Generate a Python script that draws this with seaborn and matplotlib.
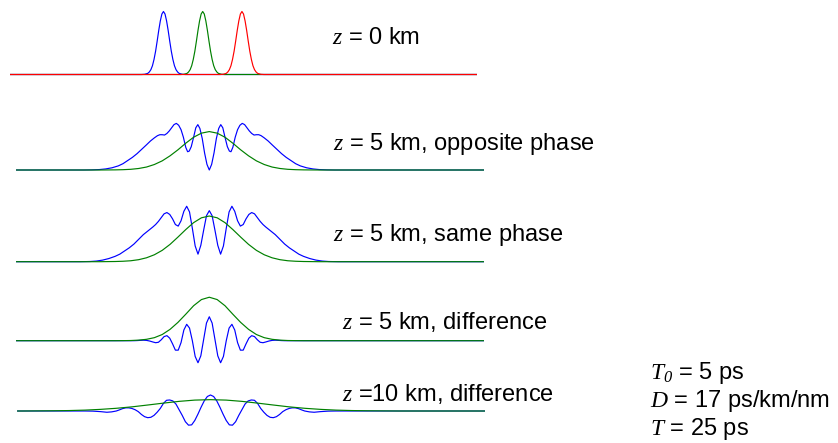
import matplotlib
matplotlib.use("Agg")
import matplotlib.pyplot as plt
import seaborn as sns

sns.set_style("white")
plt.rcParams["font.family"] = ["Liberation Sans", "DejaVu Sans"]
plt.rcParams["text.color"] = "black"
plt.rcParams["mathtext.fontset"] = "custom"
plt.rcParams["mathtext.it"] = "Liberation Serif:italic"
# digits inside math (the subscript of T0) are set in italic serif as well
plt.rcParams["mathtext.rm"] = "Liberation Serif:italic"

BLUE, GREEN, RED = "#0000ff", "#008000", "#ff0000"

# time window shown in every row (ps)
T_MIN, T_MAX = -123.0, 175.0

# ---- z = 0 km: three input pulses, one bit slot (25 ps) apart ----
z0_centers = [-25.0, 0.0, 25.0]
z0_colors = [BLUE, GREEN, RED]
z0_profile_t = [-14, -12, -10, -9, -8, -7, -6, -5, -4, -3, -2, -1, 0,
                1, 2, 3, 4, 5, 6, 7, 8, 9, 10, 12, 14]
z0_profile_p = [0.0, 0.003, 0.018, 0.04, 0.077, 0.14, 0.24, 0.37, 0.53, 0.70, 0.85, 0.96, 1.0,
                0.96, 0.85, 0.70, 0.53, 0.37, 0.24, 0.14, 0.077, 0.04, 0.018, 0.003, 0.0]

# ---- z = 5 km, opposite phase ----
opp_t = [-123, -80, -75, -70, -66, -62, -58, -55, -52, -49, -46, -43, -40, -37.5, -35, -33,
         -31.5, -30, -28.5, -27, -25.5, -24, -22.5, -21, -19.5, -18, -16.5, -15, -13.8,
         -12.8, -11.5, -10, -8.6, -7.3, -6, -4.5, -3, -1.5, 0, 1.5, 3, 4.5, 6, 7.3, 8.6,
         10, 11.5, 12.8, 13.8, 15, 16.5, 18, 19.5, 21, 22.5, 24, 25.5, 27, 28.5, 30, 31.5,
         33, 35, 37.5, 40, 43, 46, 49, 52, 55, 58, 62, 66, 70, 75, 80, 175]
opp_sum = [0, 0.0, 0.002, 0.007, 0.017, 0.035, 0.065, 0.10, 0.15, 0.20, 0.26, 0.33, 0.40,
           0.46, 0.51, 0.545, 0.56, 0.56, 0.555, 0.58, 0.62, 0.67, 0.72, 0.74, 0.71, 0.64,
           0.52, 0.36, 0.29, 0.30, 0.37, 0.52, 0.67, 0.72, 0.66, 0.50, 0.27, 0.09, 0.0,
           0.09, 0.27, 0.50, 0.66, 0.72, 0.67, 0.52, 0.37, 0.30, 0.29, 0.36, 0.52, 0.64,
           0.71, 0.74, 0.72, 0.67, 0.62, 0.58, 0.555, 0.56, 0.56, 0.545, 0.51, 0.46, 0.40,
           0.33, 0.26, 0.20, 0.15, 0.10, 0.065, 0.035, 0.017, 0.007, 0.002, 0.0, 0]

# single (centre) pulse after 5 km, sampled every 5 ps
single_t = [-123, -70, -60, -55, -50, -45, -40, -35, -30, -25, -20, -15, -10, -5, 0,
            5, 10, 15, 20, 25, 30, 35, 40, 45, 50, 55, 60, 70, 175]
opp_single = [0, 0.0, 0.002, 0.005, 0.011, 0.024, 0.047, 0.087, 0.145, 0.225, 0.32, 0.425,
              0.52, 0.585, 0.61, 0.585, 0.52, 0.425, 0.32, 0.225, 0.145, 0.087, 0.047,
              0.024, 0.011, 0.005, 0.002, 0.0, 0]

# ---- z = 5 km, same phase / difference (common 1.8 ps grid near the centre) ----
mid_t = [-123, -82, -76, -72, -68, -64, -60, -57, -54, -51, -48, -46, -44, -42, -40, -38,
         -36, -34.2, -32.4, -30.6, -28.8, -27, -25.2, -23.4, -21.6, -19.8, -18, -16.2,
         -14.4, -12.6, -10.8, -9, -7.2, -5.4, -3.6, -1.8, 0, 1.8, 3.6, 5.4, 7.2, 9, 10.8,
         12.6, 14.4, 16.2, 18, 19.8, 21.6, 23.4, 25.2, 27, 28.8, 30.6, 32.4, 34.2, 36, 38,
         40, 42, 44, 46, 48, 51, 54, 57, 60, 64, 68, 72, 76, 82, 175]
same_sum = [0, 0.0, 0.003, 0.01, 0.025, 0.05, 0.085, 0.12, 0.17, 0.22, 0.28, 0.33, 0.38,
            0.43, 0.47, 0.51, 0.55, 0.59, 0.64, 0.70, 0.76, 0.78, 0.75, 0.68, 0.59, 0.565,
            0.65, 0.80, 0.88, 0.79, 0.53, 0.25, 0.12, 0.26, 0.50, 0.73, 0.81, 0.73, 0.50,
            0.26, 0.12, 0.25, 0.53, 0.79, 0.88, 0.80, 0.65, 0.565, 0.59, 0.68, 0.75, 0.78,
            0.76, 0.70, 0.64, 0.59, 0.55, 0.51, 0.47, 0.43, 0.38, 0.33, 0.28, 0.22, 0.17,
            0.12, 0.085, 0.05, 0.025, 0.01, 0.003, 0.0, 0]
diff5_field = [0, 0, 0, 0, 0, 0, 0, 0, 0, 0, 0, 0.002, 0.005, 0.008, 0.005, -0.005, -0.02,
               -0.032, -0.025, 0.015, 0.065, 0.08, 0.04, -0.05, -0.15, -0.15, -0.03, 0.17,
               0.26, 0.20, 0.0, -0.25, -0.35, -0.24, 0.02, 0.28, 0.38, 0.28, 0.02, -0.24,
               -0.35, -0.25, 0.0, 0.20, 0.26, 0.17, -0.03, -0.15, -0.15, -0.05, 0.04, 0.08,
               0.065, 0.015, -0.025, -0.032, -0.02, -0.005, 0.005, 0.008, 0.005, 0.002, 0,
               0, 0, 0, 0, 0, 0, 0, 0, 0, 0]

same_single = [0, 0.0, 0.003, 0.007, 0.015, 0.032, 0.062, 0.11, 0.18, 0.275, 0.39, 0.51,
               0.62, 0.697, 0.725, 0.697, 0.62, 0.51, 0.39, 0.275, 0.18, 0.11, 0.062,
               0.032, 0.015, 0.007, 0.003, 0.0, 0]
diff5_env = [0, 0.0, 0.0, 0.001, 0.003, 0.009, 0.022, 0.048, 0.098, 0.18, 0.29, 0.42,
             0.555, 0.653, 0.69, 0.653, 0.555, 0.42, 0.29, 0.18, 0.098, 0.048, 0.022,
             0.009, 0.003, 0.001, 0.0, 0.0, 0]

# ---- z = 10 km, difference ----
z10_t = [-123, -80, -75, -70, -66, -63, -60, -58, -56, -54, -52, -50, -48, -46, -44, -42,
         -40, -38, -36, -34, -32, -30, -28, -26, -24, -22, -20, -18, -16, -14, -12, -10,
         -8, -6, -4, -2, 0, 2, 4, 6, 8, 10, 12, 14, 16, 18, 20, 22, 24, 26, 28, 30, 32, 34,
         36, 38, 40, 42, 44, 46, 48, 50, 52, 54, 56, 58, 60, 63, 66, 70, 75, 80, 175]
z10_field = [0, 0.0, -0.002, -0.01, -0.02, -0.014, 0.0, 0.018, 0.038, 0.05, 0.05, 0.04,
             0.02, -0.01, -0.055, -0.09, -0.106, -0.10, -0.07, -0.02, 0.04, 0.12, 0.17,
             0.175, 0.16, 0.11, 0.02, -0.07, -0.17, -0.225, -0.22, -0.15, -0.05, 0.06,
             0.16, 0.23, 0.254, 0.23, 0.16, 0.06, -0.05, -0.15, -0.22, -0.225, -0.17, -0.07,
             0.02, 0.11, 0.16, 0.175, 0.17, 0.12, 0.04, -0.02, -0.07, -0.10, -0.106, -0.09,
             -0.055, -0.01, 0.02, 0.04, 0.05, 0.05, 0.038, 0.018, 0.0, -0.014, -0.02, -0.01,
             -0.002, 0.0, 0]
z10_env_t = [-123, -120, -110, -100, -90, -80, -70, -60, -50, -40, -30, -20, -10, 0,
             10, 20, 30, 40, 50, 60, 70, 80, 90, 100, 110, 120, 175]
z10_env = [0, 0.0, 0.0016, 0.0035, 0.0072, 0.014, 0.026, 0.043, 0.066, 0.095, 0.125, 0.153,
           0.173, 0.18, 0.173, 0.153, 0.125, 0.095, 0.066, 0.043, 0.026, 0.014, 0.0072,
           0.0035, 0.0016, 0.0, 0]

row_labels = [r"$z$ = 0 km", r"$z$ = 5 km, opposite phase", r"$z$ = 5 km, same phase",
              r"$z$ = 5 km, difference", r"$z$ =10 km, difference"]
param_labels = [r"$T_0$ = 5 ps", r"$D$ = 17 ps/km/nm", r"$T$ = 25 ps"]

# ---------------- layout ----------------
W, H = 838, 443
PX_PER_PS = 1.57
PX_PER_UNIT = 63.0
Y_LO, Y_HI = -0.5, 1.1

fig = plt.figure(figsize=(W / 100, H / 100), dpi=100)
fig.patch.set_facecolor("white")


def row_axes(center_px, baseline_px):
    left = center_px + T_MIN * PX_PER_PS
    width = (T_MAX - T_MIN) * PX_PER_PS
    bottom = baseline_px - Y_LO * PX_PER_UNIT
    height = (Y_HI - Y_LO) * PX_PER_UNIT
    ax = fig.add_axes([left / W, 1 - bottom / H, width / W, height / H])
    ax.set_xlim(T_MIN, T_MAX)
    ax.set_ylim(Y_LO, Y_HI)
    ax.axis("off")
    ax.patch.set_alpha(0)
    return ax


def trace(ax, t, v, color):
    sns.lineplot(x=t, y=v, ax=ax, color=color, linewidth=0.85,
                 estimator=None, sort=False, legend=False)


# row 1
ax = row_axes(202.7, 74.5)
for c, col in zip(z0_centers, z0_colors):
    t = [T_MIN] + [c + p for p in z0_profile_t] + [T_MAX]
    v = [0.0] + z0_profile_p + [0.0]
    trace(ax, t, v, col)

# row 2
ax = row_axes(209.3, 170.0)
trace(ax, opp_t, opp_sum, BLUE)
trace(ax, single_t, opp_single, GREEN)

# row 3
ax = row_axes(209.3, 261.7)
trace(ax, mid_t, same_sum, BLUE)
trace(ax, single_t, same_single, GREEN)

# row 4
ax = row_axes(209.3, 340.7)
trace(ax, mid_t, diff5_field, BLUE)
trace(ax, single_t, diff5_env, GREEN)

# row 5
ax = row_axes(210.5, 411.0)
trace(ax, z10_t, z10_field, BLUE)
trace(ax, z10_env_t, z10_env, GREEN)

# labels
label_pos = [(331.5, 44.5), (333, 150), (333, 240.5), (341.5, 329), (341.5, 401)]
for (x, y), s in zip(label_pos, row_labels):
    fig.text(x / W, 1 - y / H, s, fontsize=17, ha="left", va="baseline", color="black")

for y, s in zip([379.5, 407, 435], param_labels):
    fig.text(650 / W, 1 - y / H, s, fontsize=17, ha="left", va="baseline", color="black")

fig.savefig("out.png", dpi=100, facecolor="white")
